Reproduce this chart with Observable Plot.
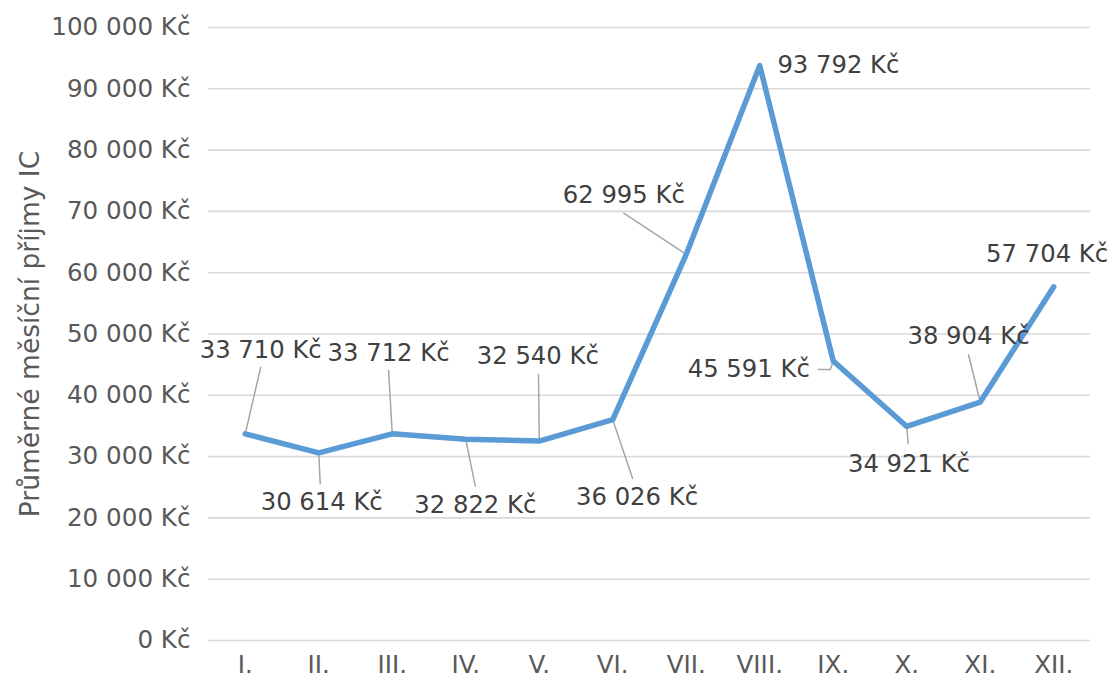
<!DOCTYPE html>
<html>
<head>
<meta charset="utf-8">
<script src="https://cdn.jsdelivr.net/npm/d3@7"></script>
<script src="https://cdn.jsdelivr.net/npm/@observablehq/plot@0.6"></script>
<style>
  html, body { margin: 0; padding: 0; background: #ffffff; }
  #chart { width: 1112px; height: 688px; }
</style>
</head>
<body>
<div id="chart"></div>
<script>
// ---- data ----
const months = ["I.", "II.", "III.", "IV.", "V.", "VI.", "VII.", "VIII.", "IX.", "X.", "XI.", "XII."];
const values = [33710, 30614, 33712, 32822, 32540, 36026, 62995, 93792, 45591, 34921, 38904, 57704];
const yTicks = [0, 10000, 20000, 30000, 40000, 50000, 60000, 70000, 80000, 90000, 100000];
const yTitle = "Průměrné měsíční příjmy IC";

// ---- annotation placement (data units: month position, value) ----
const labelX = [0.21, 1.04, 1.95, 3.13, 3.98, 5.33, 5.15, 8.07, 6.85, 9.03, 9.84, 10.91];
const labelY = [47300, 22500, 46900, 22000, 46300, 23300, 72600, 93800, 44200, 28700, 49600, 63000];
// leader lines: [month index, start points...] – each ends at the data point
const leaders = [
  [0, [[0.21, 44580]]],
  [1, [[1.02, 25560]]],
  [2, [[1.95, 44050]]],
  [3, [[3.13, 25170]]],
  [4, [[3.99, 43390]]],
  [5, [[5.27, 26430]]],
  [6, [[5.15, 69700]]],
  [8, [[7.80, 44210], [7.96, 44210]]],
  [9, [[9.02, 32090]]],
  [10, [[9.84, 46610]]]
];

// ---- build tables ----
const rows = months.map((m, i) => ({i, m, v: values[i], lx: labelX[i], ly: labelY[i]}));
const leaderRows = leaders.flatMap(([i, pts]) =>
  [...pts.map(([x, y]) => ({id: i, x, y})), {id: i, x: i, y: values[i]}]
);

const loc = d3.formatLocale({decimal: ",", thousands: " ", grouping: [3], currency: ["", " Kč"]});
const fmt = v => loc.format(",")(v) + " Kč";

const chart = Plot.plot({
  width: 1112,
  height: 688,
  marginLeft: 208,
  marginRight: 22,
  marginTop: 27,
  marginBottom: 48,
  style: {fontFamily: "DejaVu Sans, Verdana, sans-serif", fontSize: "24.6px", color: "#595959", background: "#ffffff"},
  x: {
    type: "linear",
    domain: [-0.5, 11.5],
    ticks: d3.range(months.length),
    tickFormat: i => months[i],
    tickSize: 0,
    tickPadding: 15,
    label: null
  },
  y: {
    domain: [0, 100000],
    ticks: yTicks,
    tickFormat: fmt,
    tickSize: 0,
    tickPadding: 18,
    label: null
  },
  marks: [
    Plot.ruleY(yTicks, {stroke: "#d9d9d9", strokeWidth: 1.6}),
    Plot.line(leaderRows, {x: "x", y: "y", z: "id", stroke: "#a6a6a6", strokeWidth: 1.5}),
    Plot.line(rows, {x: "i", y: "v", stroke: "#5b9bd5", strokeWidth: 5.5, strokeLinejoin: "round", strokeLinecap: "round"}),
    Plot.text(rows, {x: "lx", y: "ly", text: d => fmt(d.v), fill: "#404040", fontSize: 24.3, textAnchor: "middle", lineAnchor: "middle"}),
    Plot.text([yTitle], {frameAnchor: "left", dx: -178, rotate: -90, fill: "#595959", fontSize: 26.5, textAnchor: "middle", lineAnchor: "middle"})
  ]
});

document.getElementById("chart").appendChild(chart);
</script>
</body>
</html>
